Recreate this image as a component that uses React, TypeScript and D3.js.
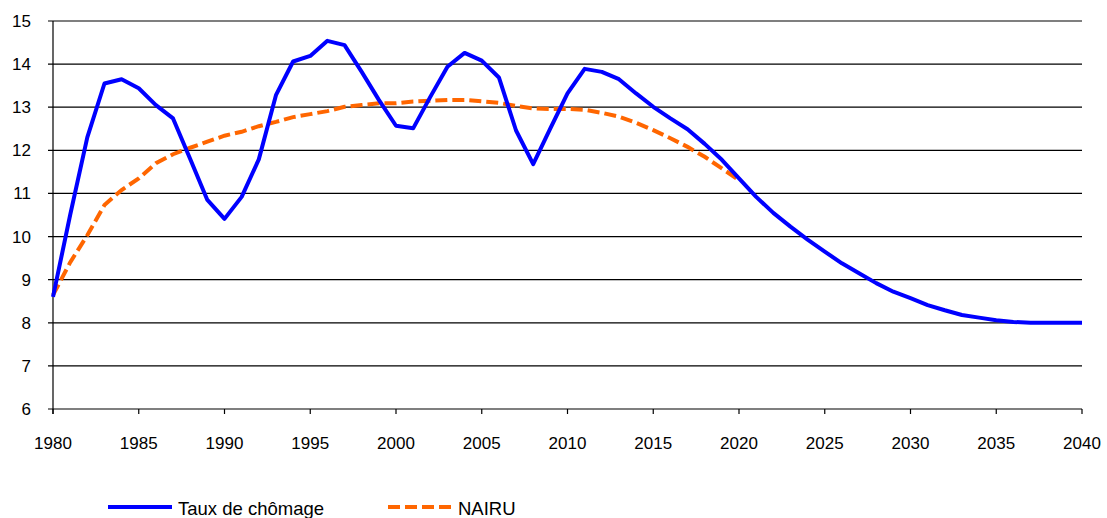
import React from 'react'
import { scaleLinear, line, range } from 'd3'

const years = range(1980, 2041)

// taux de chômage, 1980-2040
const chomage = [
  8.6, 10.5, 12.3, 13.55, 13.65, 13.44, 13.05, 12.74, 11.8, 10.85,
  10.41, 10.92, 11.79, 13.28, 14.06, 14.19, 14.54, 14.44, 13.82, 13.17,
  12.57, 12.51, 13.24, 13.94, 14.26, 14.08, 13.69, 12.46, 11.68, 12.51,
  13.32, 13.89, 13.82, 13.65, 13.32, 13.01, 12.74, 12.49, 12.15, 11.78,
  11.35, 10.92, 10.55, 10.23, 9.93, 9.65, 9.38, 9.15, 8.92, 8.72,
  8.57, 8.41, 8.29, 8.18, 8.12, 8.06, 8.02, 8.0, 8.0, 8.0,
  8.0,
]

// NAIRU, 1980-2020
const nairu = [
  8.64, 9.4, 10.03, 10.73, 11.08, 11.35, 11.7, 11.91, 12.06, 12.2,
  12.34, 12.43, 12.56, 12.66, 12.77, 12.84, 12.91, 13.01, 13.05, 13.09,
  13.09, 13.13, 13.15, 13.17, 13.17, 13.14, 13.1, 13.03, 12.97, 12.96,
  12.96, 12.94, 12.87, 12.78, 12.64, 12.47, 12.28, 12.08, 11.85, 11.58,
  11.31,
]

const yTicks = [6, 7, 8, 9, 10, 11, 12, 13, 14, 15]
const xTicks = [1980, 1985, 1990, 1995, 2000, 2005, 2010, 2015, 2020, 2025, 2030, 2035, 2040]
const legendItems = [
  { label: 'Taux de chômage', color: '#0000FF', dash: 'none' },
  { label: 'NAIRU', color: '#FF6600', dash: '12,5' },
]

const W = 1107
const H = 518
const FONT = '"Liberation Sans", Arial, sans-serif'

export default function App() {
  const x = scaleLinear().domain([1980, 2040]).range([53, 1082])
  const y = scaleLinear().domain([6, 15]).range([409, 21])

  const mkLine = line<number>()
    .x((d, i) => x(years[i]))
    .y(d => y(d))

  return (
    <svg width={W} height={H} style={{ position: 'absolute', left: 0, top: 0, background: '#fff' }}>
      {/* grid */}
      {yTicks.map(t => (
        <g key={t}>
          <line x1={x(1980) - 5} x2={x(2040)} y1={y(t)} y2={y(t)} stroke="#000" strokeWidth={1.2} />
          <text x={31} y={y(t)} dy="0.35em" textAnchor="end" fontFamily={FONT} fontSize={17} fill="#000">
            {t}
          </text>
        </g>
      ))}
      <line x1={x(1980)} x2={x(1980)} y1={y(15)} y2={y(6) + 5} stroke="#000" strokeWidth={1.2} />
      {xTicks.map(t => (
        <g key={t}>
          <line x1={x(t)} x2={x(t)} y1={y(6)} y2={y(6) + 5} stroke="#000" strokeWidth={1.2} />
          <text x={x(t)} y={449} textAnchor="middle" fontFamily={FONT} fontSize={17} fill="#000">
            {t}
          </text>
        </g>
      ))}

      <path d={mkLine(nairu) || ''} fill="none" stroke="#FF6600" strokeWidth={4} strokeDasharray="12,5" />
      <path d={mkLine(chomage) || ''} fill="none" stroke="#0000FF" strokeWidth={4} strokeLinejoin="round" />

      {/* legend */}
      {legendItems.map((it, i) => {
        const lx = i === 0 ? 108 : 388
        return (
          <g key={it.label}>
            <line x1={lx} x2={lx + 64} y1={507} y2={507} stroke={it.color} strokeWidth={4} strokeDasharray={it.dash} />
            <text x={lx + 70} y={515} fontFamily={FONT} fontSize={18.5} fill="#000">
              {it.label}
            </text>
          </g>
        )
      })}
    </svg>
  )
}
